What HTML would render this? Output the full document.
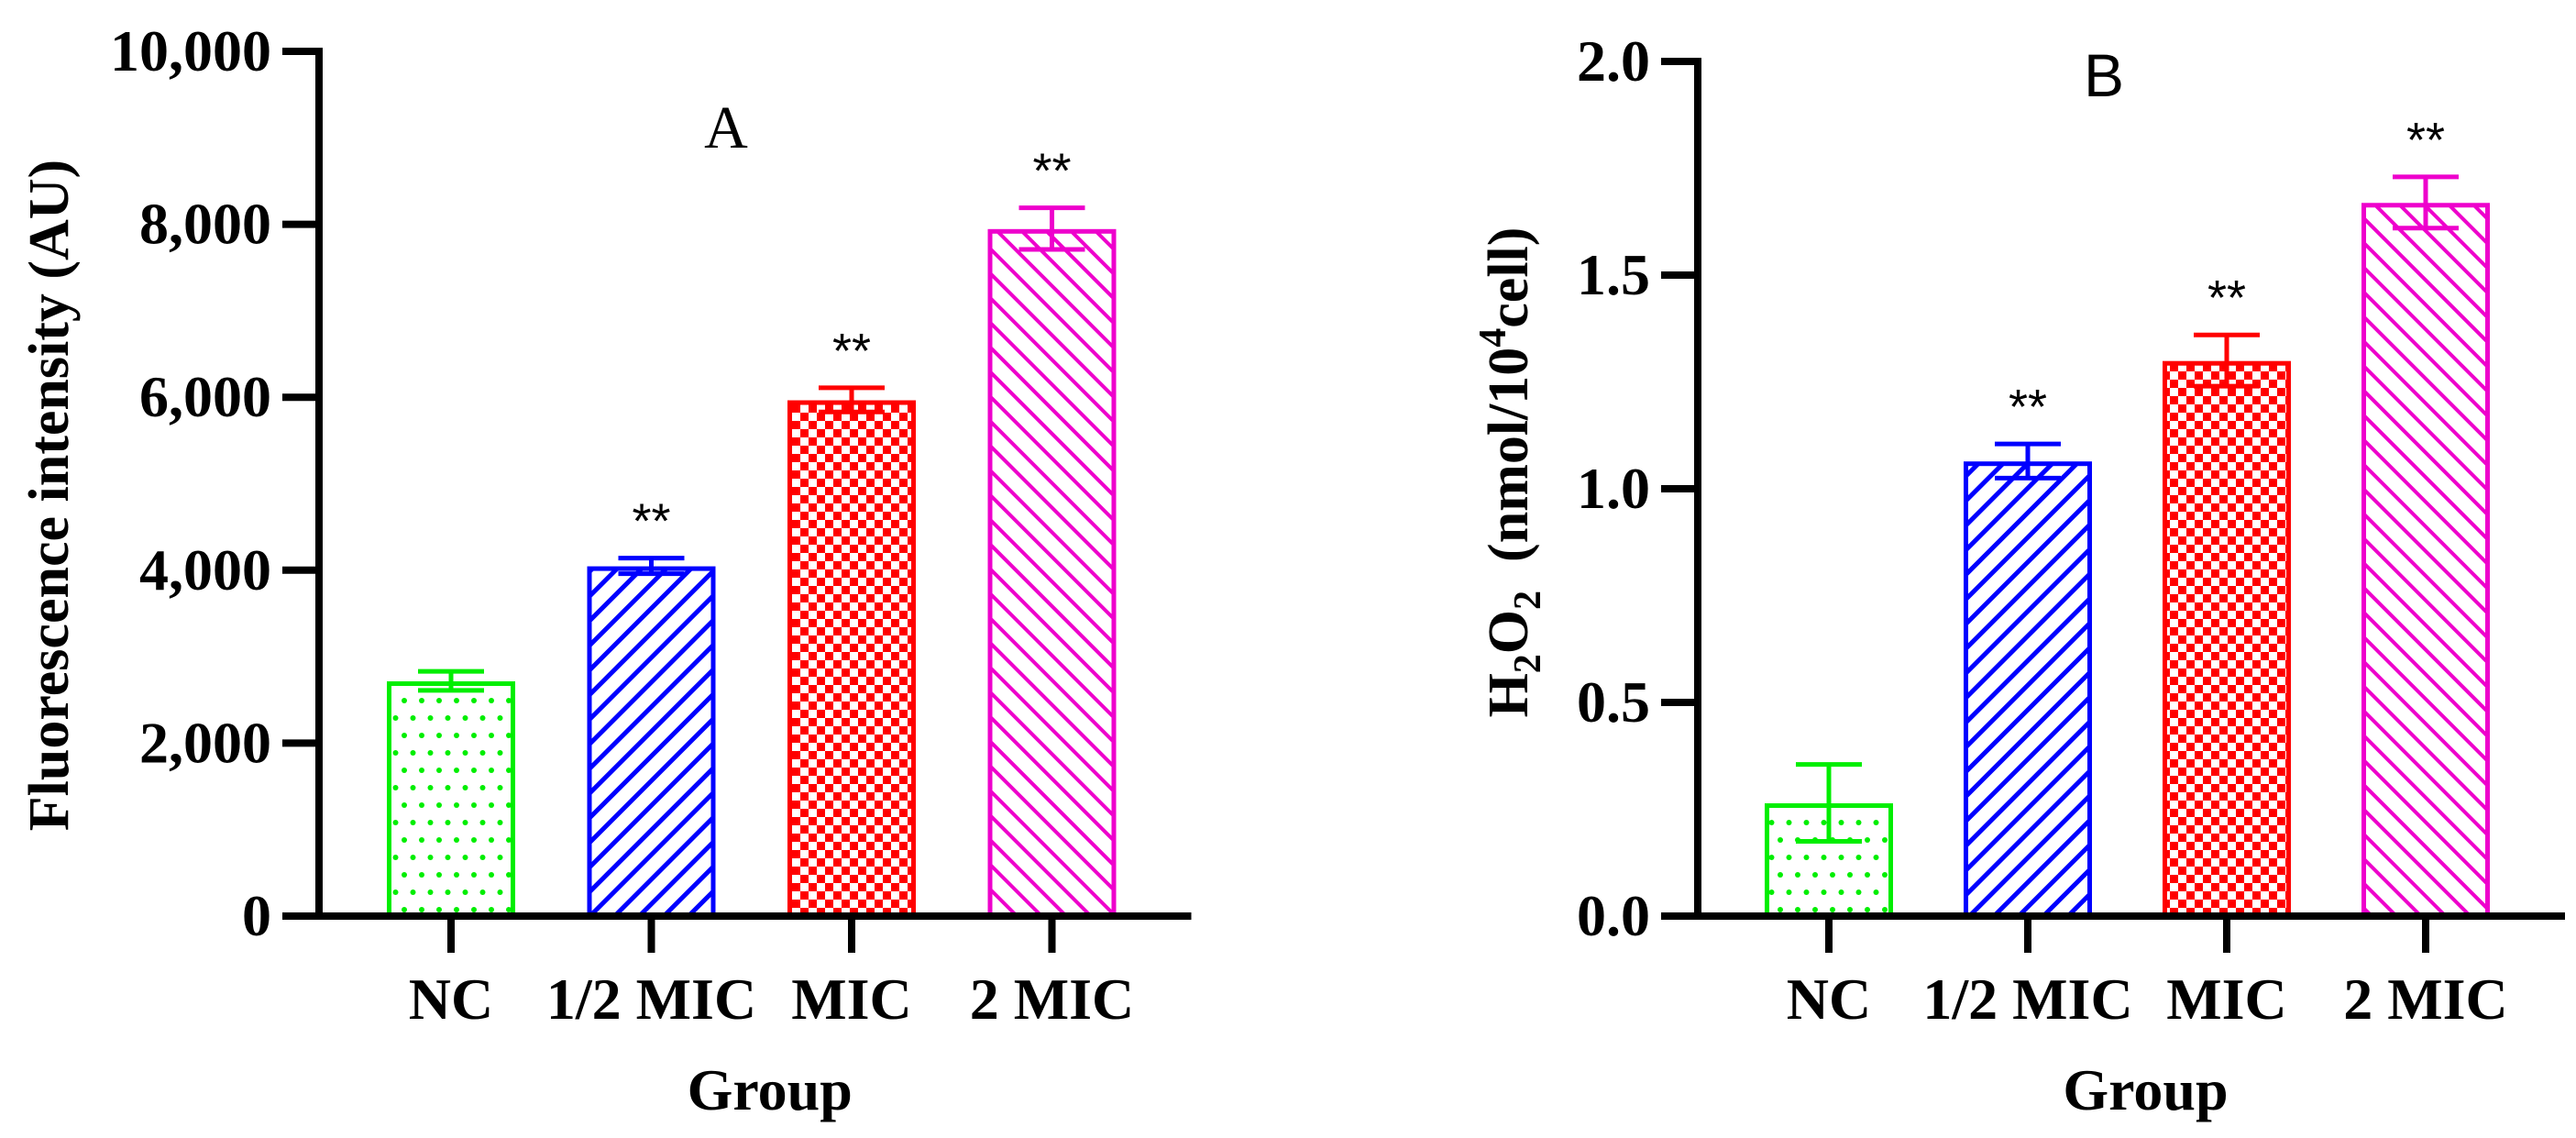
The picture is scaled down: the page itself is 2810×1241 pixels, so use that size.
<!DOCTYPE html>
<html><head><meta charset="utf-8"><style>
html,body{margin:0;padding:0;background:#fff;}
svg{display:block;}
text{font-family:"Liberation Serif",serif;}
</style></head>
<body>
<svg id="fig" width="2810" height="1241" viewBox="0 0 2810 1241" xmlns="http://www.w3.org/2000/svg">
<defs>
<pattern id="pDots" patternUnits="userSpaceOnUse" width="19" height="38">
<circle cx="4" cy="4" r="3" fill="#00ee00"/><circle cx="13.5" cy="23" r="3" fill="#00ee00"/>
</pattern>
<pattern id="pFwd" patternUnits="userSpaceOnUse" width="19" height="19" patternTransform="rotate(45)">
<rect x="0" y="0" width="5" height="19" fill="#0000ff"/>
</pattern>
<pattern id="pCheck" patternUnits="userSpaceOnUse" width="18" height="18">
<rect width="18" height="18" fill="#ff0000"/><rect x="0" y="0" width="9" height="9" fill="#fff"/><rect x="9" y="9" width="9" height="9" fill="#fff"/>
</pattern>
<pattern id="pBack" patternUnits="userSpaceOnUse" width="19" height="19" patternTransform="rotate(-45)">
<rect x="0" y="0" width="4" height="19" fill="#ee00cc"/>
</pattern>
</defs>
<g id="panelA"></g>
<g id="panelB"></g>
</svg>
<script>
const categories = ["NC", "1/2 MIC", "MIC", "2 MIC"];
const valuesA = [2720, 4050, 5970, 7950];
const errorsA = [110, 90, 140, 240];
const ticksA = [0, 2000, 4000, 6000, 8000, 10000];
const tickLabelsA = ["0", "2,000", "4,000", "6,000", "8,000", "10,000"];
const valuesB = [0.265, 1.065, 1.30, 1.67];
const errorsB = [0.09, 0.04, 0.06, 0.06];
const ticksB = [0, 0.5, 1.0, 1.5, 2.0];
const tickLabelsB = ["0.0", "0.5", "1.0", "1.5", "2.0"];
const colors = ["#00ee00", "#0000ff", "#ff0000", "#ee00cc"];
const fills = ["url(#pDots)", "url(#pFwd)", "url(#pCheck)", "url(#pBack)"];
const NS = "http://www.w3.org/2000/svg";

function mk(parent, tag, attrs, txt){
  const e = document.createElementNS(NS, tag);
  for (const k in attrs) e.setAttribute(k, attrs[k]);
  if (txt !== undefined) e.textContent = txt;
  parent.appendChild(e);
  return e;
}

function drawPanel(g, cfg){
  const y = v => cfg.y0 - (v - 0) / cfg.max * (cfg.y0 - cfg.yTop);
  const x = i => cfg.x0 + i * cfg.step;
  const bw = 141;
  cfg.values.forEach((v, i) => {
    const cx = x(i), top = y(v);
    const bg = mk(g, "g", {});
    
    
    mk(bg, "rect", {x: cx-bw/2, y: top, width: bw, height: cfg.y0-top, fill: "#fff"});
    mk(bg, "rect", {x: cx-bw/2+3, y: top+3, width: bw-6, height: cfg.y0-top-3, fill: fills[i], stroke: colors[i], "stroke-width": 5});
    const eT = y(v + cfg.errors[i]), eB = y(v - cfg.errors[i]);
    const eg = mk(g, "g", {stroke: colors[i], "stroke-width": 5, fill: "none"});
    
    
    mk(eg, "line", {x1: cx, y1: eT, x2: cx, y2: eB});
    mk(eg, "line", {x1: cx-36, y1: eT, x2: cx+36, y2: eT});
    mk(eg, "line", {x1: cx-36, y1: eB, x2: cx+36, y2: eB});
    if (i > 0) {
      const s = mk(g, "text", {x: cx, y: eT - 22, "text-anchor": "middle", "font-size": 54, style: 'font-family:"Liberation Sans",sans-serif'}, "**");
      
      
    }
  });
  const ax = mk(g, "g", {stroke: "#000", "stroke-width": 8});
  
  
  mk(ax, "line", {x1: cfg.axX, y1: cfg.yTop - 4, x2: cfg.axX, y2: cfg.y0 + 4});
  cfg.ticks.forEach((t, k) => {
    mk(ax, "line", {x1: cfg.axX - 40, y1: y(t), x2: cfg.axX, y2: y(t)});
    const tl = mk(g, "text", {x: cfg.axX - 52, y: y(t) + 21, "text-anchor": "end", "font-size": 64, "font-weight": "bold"}, cfg.tickLabels[k]);
    
    
  });
  const xa = mk(g, "g", {stroke: "#000", "stroke-width": 8});
  
  
  mk(xa, "line", {x1: cfg.axX - 40, y1: cfg.y0, x2: x(3) + 152, y2: cfg.y0});
  categories.forEach((c, i) => {
    mk(xa, "line", {x1: x(i), y1: cfg.y0, x2: x(i), y2: cfg.y0 + 40});
    const l = mk(g, "text", {x: x(i), y: 1111, "text-anchor": "middle", "font-size": 64, "font-weight": "bold"}, c);
    
    
  });
  const gt = mk(g, "text", {x: (x(0)+x(3))/2 + 20, y: 1210, "text-anchor": "middle", "font-size": 64, "font-weight": "bold"}, "Group");
  
  
}

const gA = document.getElementById("panelA");
drawPanel(gA, {x0: 492, step: 218.5, axX: 348, y0: 999, yTop: 56, max: 10000, values: valuesA, errors: errorsA, ticks: ticksA, tickLabels: tickLabelsA});
const gB = document.getElementById("panelB");
drawPanel(gB, {x0: 1995, step: 217, axX: 1852, y0: 999, yTop: 67, max: 2.0, values: valuesB, errors: errorsB, ticks: ticksB, tickLabels: tickLabelsB});

const tA = mk(gA, "text", {x: 0, y: 0, transform: "translate(74,540) rotate(-90)", "text-anchor": "middle", "font-size": 62, "font-weight": "bold"}, "Fluorescence intensity (AU)");


const la = mk(gA, "text", {x: 792, y: 161, "text-anchor": "middle", "font-size": 66}, "A");



const tB = mk(gB, "text", {x: 0, y: 0, transform: "translate(1666,515) rotate(-90)", "text-anchor": "middle", "font-size": 62, "font-weight": "bold"});


tB.innerHTML = 'H<tspan font-size="42" dy="14">2</tspan><tspan dy="-14">O</tspan><tspan font-size="42" dy="14">2</tspan><tspan dy="-14" xml:space="preserve">  (nmol/10</tspan><tspan font-size="42" dy="-24">4</tspan><tspan dy="24">cell)</tspan>';
const lb = mk(gB, "text", {x: 2295, y: 105, "text-anchor": "middle", "font-size": 66, style: 'font-family:"Liberation Sans",sans-serif'}, "B");


</script>
</body></html>
